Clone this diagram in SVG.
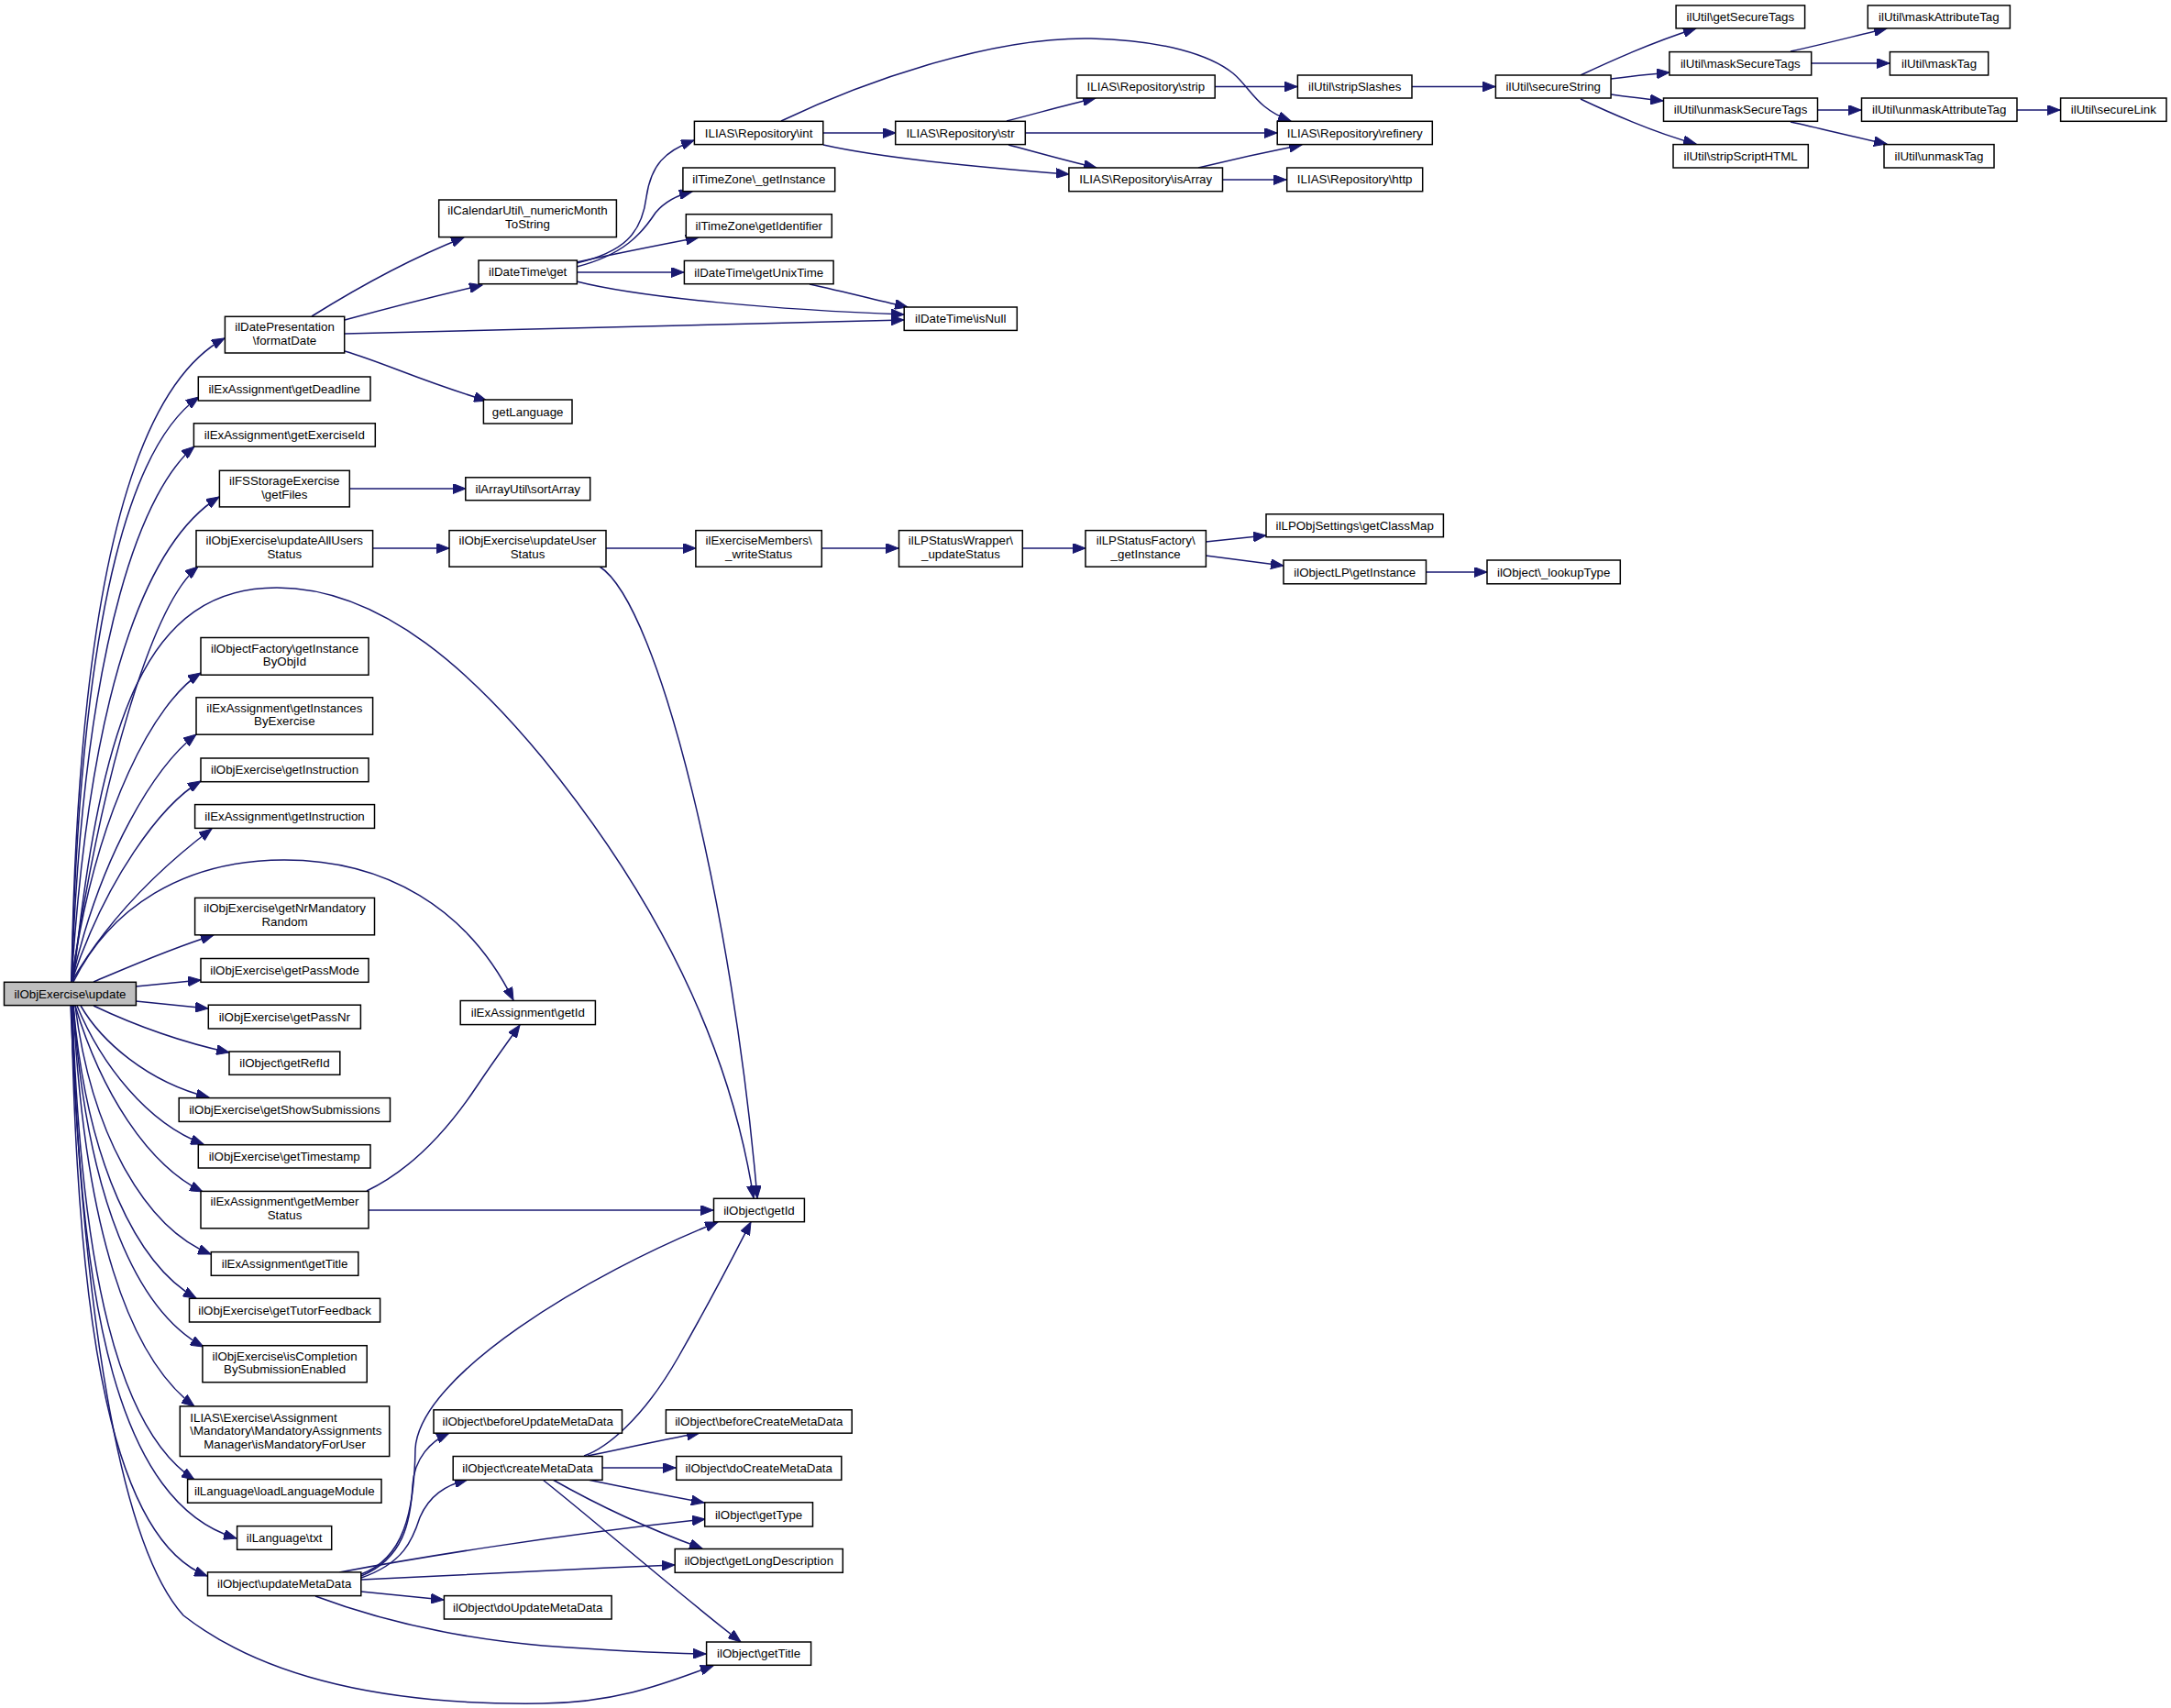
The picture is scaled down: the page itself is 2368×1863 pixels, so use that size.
<svg xmlns="http://www.w3.org/2000/svg" width="2368" height="1863" viewBox="0 0 2368 1863">
<style>
.n rect{fill:#fff;stroke:#000;stroke-width:1.5}
.n text{font-family:"Liberation Sans",Arial,Helvetica,sans-serif;font-size:13.3px;text-anchor:middle;fill:#000}
.n text.l{text-anchor:start}
#n_update rect{fill:#bfbfbf}
.e path{fill:none;stroke:#191970;stroke-width:1.5;marker-end:url(#a)}
</style>
<defs>
<marker id="a" markerUnits="userSpaceOnUse" markerWidth="15" markerHeight="11" refX="14" refY="5.5" orient="auto"><path d="M0,0 L14,5.5 L0,11 z" fill="#191970" stroke="#191970" stroke-width="1"/></marker>
</defs>
<rect width="2368" height="1863" fill="#fff"/>
<g id="edges" class="e">
<path d="M78,1071 C85,620 150,420 245,369"/>
<path d="M78,1071 C88,640 150,480 217,433"/>
<path d="M78,1071 C92,680 160,530 212,487"/>
<path d="M78,1071 C100,720 170,585 239,542"/>
<path d="M78,1071 C110,850 165,660 216,618"/>
<path d="M80,1071 C110,780 160,641 302,641 C420,641 520,740 592,827 C680,935 790,1100 822,1307"/>
<path d="M78,1071 C105,880 170,765 219,734"/>
<path d="M78,1071 C110,930 170,835 214,801"/>
<path d="M78,1071 C115,960 175,878 219,852"/>
<path d="M78,1071 C125,990 190,935 231,904"/>
<path d="M80,1071 C120,990 200,938 310,938 C420,938 510,990 560,1091"/>
<path d="M102,1071 C140,1055 185,1035 233,1020"/>
<path d="M148,1076 L219,1069"/>
<path d="M148,1092 L227,1100"/>
<path d="M102,1097 C140,1115 190,1135 250,1148"/>
<path d="M88,1097 C110,1135 160,1180 228,1197"/>
<path d="M84,1097 C110,1160 160,1225 222,1248"/>
<path d="M82,1097 C110,1190 160,1270 221,1300"/>
<path d="M82,1097 C100,1240 160,1340 230,1368"/>
<path d="M80,1097 C95,1270 150,1380 214,1416"/>
<path d="M80,1097 C95,1310 150,1430 222,1469"/>
<path d="M80,1097 C92,1340 140,1480 212,1534"/>
<path d="M79,1097 C88,1390 130,1560 212,1614"/>
<path d="M79,1097 C86,1430 130,1640 258,1678"/>
<path d="M78,1097 C84,1460 125,1680 226,1719"/>
<path d="M77,1097 C92,1460 135,1690 200,1762 C300,1840 450,1860 592,1858 C680,1857 735,1832 778,1817"/>
<path d="M340,345 C380,320 440,285 506,259"/>
<path d="M376,349 C420,337 470,324 526,311"/>
<path d="M376,364 C600,359 800,354 986,349"/>
<path d="M376,383 C420,396 460,416 531,437"/>
<path d="M629,287 C680,275 700,255 705,215 C710,180 725,165 757,153"/>
<path d="M629,291 C680,278 700,255 715,232 C725,220 738,213 755,209"/>
<path d="M629,286 C670,277 715,268 762,259"/>
<path d="M629,297 L746,297"/>
<path d="M629,307 C700,325 850,338 986,343"/>
<path d="M898,145 L977,145"/>
<path d="M852,132 C940,90 1080,40 1190,42 C1270,44 1320,60 1345,80 C1365,97 1370,118 1408,132"/>
<path d="M898,158 C960,172 1060,182 1166,190"/>
<path d="M1098,132 C1130,124 1160,115 1195,107"/>
<path d="M1118,145 L1393,145"/>
<path d="M1100,158 C1130,166 1165,176 1196,183"/>
<path d="M1307,183 C1340,175 1380,166 1420,158"/>
<path d="M1333,196 L1403,196"/>
<path d="M1325,94.5 L1415,94.5"/>
<path d="M1540,94.5 L1631,94.5"/>
<path d="M1724,82 C1760,65 1805,45 1850,31"/>
<path d="M1757,86 C1780,83 1800,81 1821,79"/>
<path d="M1757,103 C1780,106 1795,108 1814,110"/>
<path d="M1724,108 C1760,125 1805,145 1850,157"/>
<path d="M1953,56 C1990,48 2020,40 2058,31"/>
<path d="M1976,69 L2061,69"/>
<path d="M1982,120 L2030,120"/>
<path d="M1953,133 C1990,141 2020,149 2058,157"/>
<path d="M2200,120 L2247,120"/>
<path d="M883,310 C920,318 955,327 990,335"/>
<path d="M381,533 L508,533"/>
<path d="M407,598 L490,598"/>
<path d="M661,598 L759,598"/>
<path d="M654,618 C720,660 800,1000 826,1307"/>
<path d="M896,598 L980,598"/>
<path d="M1115,598 L1184,598"/>
<path d="M1315,591 L1381,584"/>
<path d="M1315,606 L1400,617"/>
<path d="M1555,624 L1622,624"/>
<path d="M400,1299 C450,1275 490,1230 520,1185 C540,1155 555,1135 567,1118"/>
<path d="M402,1320 L778,1320"/>
<path d="M394,1717 C440,1700 452,1650 453,1580 C458,1500 640,1390 783,1333"/>
<path d="M394,1719 C440,1700 448,1660 450,1620 C452,1590 470,1572 490,1563"/>
<path d="M394,1721 C440,1705 450,1680 458,1655 C468,1632 485,1620 510,1614"/>
<path d="M370,1715 C450,1700 600,1675 769,1657"/>
<path d="M394,1723 C500,1717 620,1712 736,1707"/>
<path d="M394,1736 L484,1745"/>
<path d="M344,1741 C400,1762 480,1785 592,1795 C660,1800 710,1803 770,1804"/>
<path d="M637,1588 C660,1580 700,1550 740,1480 C780,1410 800,1370 819,1333"/>
<path d="M641,1588 C680,1580 720,1571 763,1563"/>
<path d="M657,1601 L737,1601"/>
<path d="M641,1614 C680,1622 720,1630 768,1639"/>
<path d="M603,1614 C640,1635 700,1665 766,1689"/>
<path d="M592,1614 C650,1660 730,1730 808,1791"/>
</g>
<g id="n_update" class="n"><rect x="4.5" y="1071.3" width="143.9" height="25.3"/><text x="76.5" y="1088.5">ilObjExercise\update</text></g>
<g id="n_formatDate" class="n"><rect x="245.4" y="345.3" width="130.3" height="39.7"/><text x="310.5" y="361">ilDatePresentation</text><text x="310.5" y="375.6">\formatDate</text></g>
<g id="n_calendar" class="n"><rect x="478.7" y="218" width="193.7" height="40.6"/><text x="575.5" y="234.1">ilCalendarUtil\_numericMonth</text><text x="575.5" y="248.7">ToString</text></g>
<g id="n_dtget" class="n"><rect x="522" y="284" width="107.4" height="25.7"/><text x="575.7" y="301.4">ilDateTime\get</text></g>
<g id="n_getLanguage" class="n"><rect x="527.4" y="436" width="96.6" height="26"/><text x="575.7" y="453.6">getLanguage</text></g>
<g id="n_getDeadline" class="n"><rect x="216.3" y="411" width="187.7" height="26"/><text x="310.2" y="428.6">ilExAssignment\getDeadline</text></g>
<g id="n_getExerciseId" class="n"><rect x="211.4" y="461.8" width="197.9" height="25.3"/><text x="310.3" y="479">ilExAssignment\getExerciseId</text></g>
<g id="n_getFiles" class="n"><rect x="239.4" y="513.3" width="141.9" height="39.6"/><text x="310.3" y="528.9">ilFSStorageExercise</text><text x="310.3" y="543.5">\getFiles</text></g>
<g id="n_sortArray" class="n"><rect x="507.8" y="520.8" width="135.9" height="24.9"/><text x="575.7" y="537.9">ilArrayUtil\sortArray</text></g>
<g id="n_updateAllUsers" class="n"><rect x="214" y="578.6" width="192.6" height="39.6"/><text x="310.3" y="594.2">ilObjExercise\updateAllUsers</text><text x="310.3" y="608.8">Status</text></g>
<g id="n_updateUser" class="n"><rect x="490" y="578.6" width="171" height="39.6"/><text x="575.5" y="594.2">ilObjExercise\updateUser</text><text x="575.5" y="608.8">Status</text></g>
<g id="n_int" class="n"><rect x="757.4" y="132.3" width="140.4" height="25.3"/><text x="827.6" y="149.6">ILIAS\Repository\int</text></g>
<g id="n_str" class="n"><rect x="976.7" y="132.3" width="141.6" height="25.3"/><text x="1047.5" y="149.6">ILIAS\Repository\str</text></g>
<g id="n_tzInstance" class="n"><rect x="744.9" y="183" width="165.8" height="25.7"/><text x="827.8" y="200.4">ilTimeZone\_getInstance</text></g>
<g id="n_tzIdentifier" class="n"><rect x="748.3" y="233.7" width="159" height="25.3"/><text x="827.8" y="251">ilTimeZone\getIdentifier</text></g>
<g id="n_getUnixTime" class="n"><rect x="746.4" y="284.4" width="162.7" height="25.3"/><text x="827.75" y="301.7">ilDateTime\getUnixTime</text></g>
<g id="n_isNull" class="n"><rect x="986.2" y="335" width="123.1" height="25.4"/><text x="1047.75" y="352.3">ilDateTime\isNull</text></g>
<g id="n_writeStatus" class="n"><rect x="758.9" y="578.6" width="137.4" height="39.6"/><text x="827.6" y="594.2">ilExerciseMembers\</text><text x="827.6" y="608.8">_writeStatus</text></g>
<g id="n_updateStatus" class="n"><rect x="980.5" y="578.6" width="134.8" height="39.6"/><text x="1047.9" y="594.2">ilLPStatusWrapper\</text><text x="1047.9" y="608.8">_updateStatus</text></g>
<g id="n_isArray" class="n"><rect x="1165.9" y="183" width="167.6" height="25.7"/><text x="1249.7" y="200.4">ILIAS\Repository\isArray</text></g>
<g id="n_strip" class="n"><rect x="1174.6" y="82" width="150.6" height="25"/><text x="1249.9" y="99.1">ILIAS\Repository\strip</text></g>
<g id="n_stripSlashes" class="n"><rect x="1415.4" y="82" width="124.6" height="25"/><text x="1477.7" y="99.1">ilUtil\stripSlashes</text></g>
<g id="n_refinery" class="n"><rect x="1393.2" y="132.3" width="169.1" height="25.3"/><text x="1477.75" y="149.6">ILIAS\Repository\refinery</text></g>
<g id="n_http" class="n"><rect x="1403.7" y="183" width="148" height="25.7"/><text x="1477.7" y="200.4">ILIAS\Repository\http</text></g>
<g id="n_secureString" class="n"><rect x="1631.4" y="82" width="125.7" height="25"/><text x="1694.25" y="99.1">ilUtil\secureString</text></g>
<g id="n_lpFactory" class="n"><rect x="1184" y="578.6" width="131.4" height="39.6"/><text x="1249.7" y="594.2">ilLPStatusFactory\</text><text x="1249.7" y="608.8">_getInstance</text></g>
<g id="n_getClassMap" class="n"><rect x="1381" y="560.8" width="193.4" height="24.9"/><text x="1477.7" y="577.9">ilLPObjSettings\getClassMap</text></g>
<g id="n_objectLP" class="n"><rect x="1400" y="611" width="155.5" height="25.8"/><text x="1477.75" y="628.5">ilObjectLP\getInstance</text></g>
<g id="n_lookupType" class="n"><rect x="1622" y="611" width="145.3" height="25.8"/><text x="1694.65" y="628.5">ilObject\_lookupType</text></g>
<g id="n_getSecureTags" class="n"><rect x="1828.1" y="5.9" width="140.5" height="25"/><text x="1898.35" y="23">ilUtil\getSecureTags</text></g>
<g id="n_maskAttributeTag" class="n"><rect x="2037.3" y="5.9" width="155.1" height="25"/><text x="2114.85" y="23">ilUtil\maskAttributeTag</text></g>
<g id="n_maskSecureTags" class="n"><rect x="1820.9" y="56.6" width="154.8" height="25.4"/><text x="1898.3" y="73.9">ilUtil\maskSecureTags</text></g>
<g id="n_maskTag" class="n"><rect x="2061.4" y="56.6" width="107.3" height="25.4"/><text x="2115.05" y="73.9">ilUtil\maskTag</text></g>
<g id="n_unmaskSecureTags" class="n"><rect x="1814.5" y="107" width="168" height="25.3"/><text x="1898.5" y="124.25">ilUtil\unmaskSecureTags</text></g>
<g id="n_unmaskAttributeTag" class="n"><rect x="2030.5" y="107" width="169.5" height="25.3"/><text x="2115.25" y="124.25">ilUtil\unmaskAttributeTag</text></g>
<g id="n_secureLink" class="n"><rect x="2247.6" y="107" width="115.4" height="25.3"/><text x="2305.3" y="124.25">ilUtil\secureLink</text></g>
<g id="n_stripScriptHTML" class="n"><rect x="1825" y="157.6" width="147.3" height="25.4"/><text x="1898.65" y="174.9">ilUtil\stripScriptHTML</text></g>
<g id="n_unmaskTag" class="n"><rect x="2055" y="157.6" width="120" height="25.4"/><text x="2115" y="174.9">ilUtil\unmaskTag</text></g>
<g id="n_getInstanceByObjId" class="n"><rect x="219" y="695.5" width="183" height="40.7"/><text x="310.5" y="711.6">ilObjectFactory\getInstance</text><text x="310.5" y="726.2">ByObjId</text></g>
<g id="n_getInstancesByExercise" class="n"><rect x="214" y="760.8" width="192.6" height="40.4"/><text x="310.3" y="776.8">ilExAssignment\getInstances</text><text x="310.3" y="791.4">ByExercise</text></g>
<g id="n_objGetInstruction" class="n"><rect x="219" y="827" width="183" height="25.7"/><text x="310.5" y="844.45">ilObjExercise\getInstruction</text></g>
<g id="n_exaGetInstruction" class="n"><rect x="212.6" y="877.6" width="195.9" height="25.8"/><text x="310.55" y="895.1">ilExAssignment\getInstruction</text></g>
<g id="n_getNrMandatory" class="n"><rect x="212.6" y="979.4" width="195.9" height="40.4"/><text x="310.55" y="995.4">ilObjExercise\getNrMandatory</text><text x="310.55" y="1010">Random</text></g>
<g id="n_getPassMode" class="n"><rect x="219" y="1045.5" width="183" height="25.8"/><text x="310.5" y="1063">ilObjExercise\getPassMode</text></g>
<g id="n_getPassNr" class="n"><rect x="227.3" y="1096.2" width="166.1" height="25.8"/><text x="310.35" y="1113.7">ilObjExercise\getPassNr</text></g>
<g id="n_getRefId" class="n"><rect x="250" y="1147" width="120.8" height="25.3"/><text x="310.4" y="1164.25">ilObject\getRefId</text></g>
<g id="n_getShowSubmissions" class="n"><rect x="195.2" y="1197.6" width="230.3" height="25.8"/><text x="310.35" y="1215.1">ilObjExercise\getShowSubmissions</text></g>
<g id="n_exaGetId" class="n"><rect x="502.2" y="1091.5" width="147.2" height="26.1"/><text x="575.8" y="1109.15">ilExAssignment\getId</text></g>
<g id="n_getTimestamp" class="n"><rect x="216.3" y="1248.7" width="187.7" height="25.3"/><text x="310.15" y="1265.95">ilObjExercise\getTimestamp</text></g>
<g id="n_getMemberStatus" class="n"><rect x="219" y="1299.4" width="183" height="40.4"/><text x="310.5" y="1315.4">ilExAssignment\getMember</text><text x="310.5" y="1330">Status</text></g>
<g id="n_exaGetTitle" class="n"><rect x="230.3" y="1365.6" width="160.5" height="25.7"/><text x="310.55" y="1383.05">ilExAssignment\getTitle</text></g>
<g id="n_getTutorFeedback" class="n"><rect x="206.5" y="1416.3" width="208.1" height="25.7"/><text x="310.55" y="1433.75">ilObjExercise\getTutorFeedback</text></g>
<g id="n_isCompletion" class="n"><rect x="220.9" y="1467.7" width="179.3" height="40"/><text x="310.55" y="1483.5">ilObjExercise\isCompletion</text><text x="310.55" y="1498.1">BySubmissionEnabled</text></g>
<g id="n_isMandatory" class="n"><rect x="196.3" y="1533.9" width="228.4" height="54.6"/><text class="l" x="207.3" y="1550.5">ILIAS\Exercise\Assignment</text><text class="l" x="207.3" y="1565.1">\Mandatory\MandatoryAssignments</text><text x="310.5" y="1579.7">Manager\isMandatoryForUser</text></g>
<g id="n_loadLanguageModule" class="n"><rect x="204.6" y="1613.5" width="211.4" height="25.7"/><text x="310.3" y="1630.95">ilLanguage\loadLanguageModule</text></g>
<g id="n_txt" class="n"><rect x="258.6" y="1664.6" width="103.1" height="25.7"/><text x="310.15" y="1682.05">ilLanguage\txt</text></g>
<g id="n_updateMetaData" class="n"><rect x="226.5" y="1714.9" width="167.3" height="25.7"/><text x="310.15" y="1732.35">ilObject\updateMetaData</text></g>
<g id="n_beforeUpdateMetaData" class="n"><rect x="473" y="1537.8" width="205.5" height="25.4"/><text x="575.75" y="1555.1">ilObject\beforeUpdateMetaData</text></g>
<g id="n_createMetaData" class="n"><rect x="494.2" y="1588.5" width="162.8" height="25.8"/><text x="575.6" y="1606">ilObject\createMetaData</text></g>
<g id="n_doUpdateMetaData" class="n"><rect x="484.4" y="1740.6" width="182.7" height="25.4"/><text x="575.75" y="1757.9">ilObject\doUpdateMetaData</text></g>
<g id="n_objGetId" class="n"><rect x="778.5" y="1307.3" width="98.9" height="25.4"/><text x="827.95" y="1324.6">ilObject\getId</text></g>
<g id="n_beforeCreateMetaData" class="n"><rect x="726.4" y="1537.8" width="202.8" height="25.4"/><text x="827.8" y="1555.1">ilObject\beforeCreateMetaData</text></g>
<g id="n_doCreateMetaData" class="n"><rect x="737.7" y="1588.5" width="180.1" height="25.8"/><text x="827.75" y="1606">ilObject\doCreateMetaData</text></g>
<g id="n_getType" class="n"><rect x="768.7" y="1638.8" width="117.8" height="26.2"/><text x="827.6" y="1656.5">ilObject\getType</text></g>
<g id="n_getLongDescription" class="n"><rect x="736.2" y="1689.5" width="183.1" height="25.8"/><text x="827.75" y="1707">ilObject\getLongDescription</text></g>
<g id="n_objGetTitle" class="n"><rect x="770.6" y="1791" width="114" height="25.3"/><text x="827.6" y="1808.25">ilObject\getTitle</text></g>
</svg>
